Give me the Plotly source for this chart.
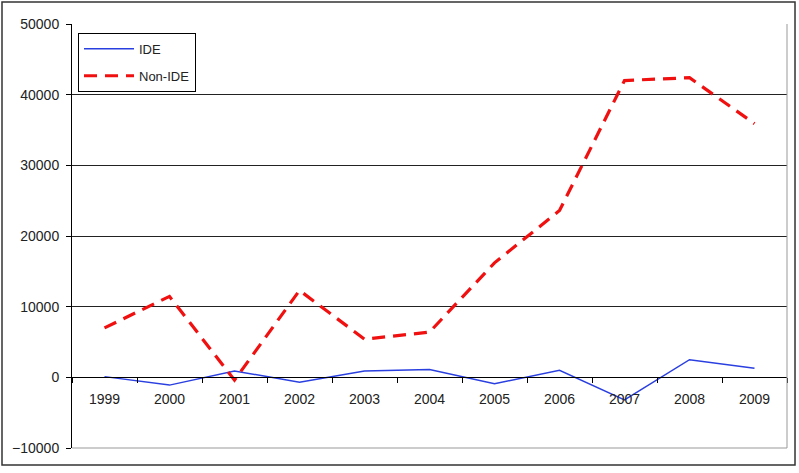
import plotly.graph_objects as go

years = ["1999", "2000", "2001", "2002", "2003", "2004", "2005", "2006", "2007", "2008", "2009"]
ide = [100, -1100, 900, -700, 900, 1100, -900, 1000, -3200, 2500, 1300]
non_ide = [7000, 11450, -400, 12300, 5400, 6400, 16200, 23600, 42000, 42400, 35900]
y_ticks = [-10000, 0, 10000, 20000, 30000, 40000, 50000]

y_min, y_max = -10000, 50000
font_family = "Liberation Sans, Arial, sans-serif"

fig = go.Figure()
fig.add_trace(go.Scatter(x=years, y=ide, mode="lines", name="IDE",
                         line=dict(color="#2a3fe0", width=1.5),
                         legendgroup="a"))
fig.add_trace(go.Scatter(x=years, y=non_ide, mode="lines", name="Non-IDE",
                         line=dict(color="#f01010", width=3.2, dash="13px,8px"),
                         legendgroup="b"))

fig.update_layout(
    width=799, height=473,
    margin=dict(l=72, r=12, t=24, b=25),
    paper_bgcolor="white", plot_bgcolor="white",
    font=dict(family=font_family, size=14, color="#222"),
    showlegend=True,
    legend=dict(x=0.0084, y=0.979, xanchor="left", yanchor="top",
                bordercolor="#000", borderwidth=1, bgcolor="white",
                font=dict(size=13, color="#222"),
                traceorder="grouped", tracegroupgap=7,
                itemwidth=50),
    xaxis=dict(type="category", range=[-0.5, len(years) - 0.5],
               anchor="free", position=(0 - y_min) / (y_max - y_min),
               showline=True, linecolor="#000", linewidth=1,
               ticks="outside", tickson="boundaries", ticklen=5, tickcolor="#000",
               showgrid=False, ticklabelstandoff=9,
               tickfont=dict(size=14, color="#222")),
    yaxis=dict(range=[y_min, y_max], tickvals=y_ticks, tickformat="d",
               showline=True, linecolor="#000", linewidth=1,
               ticks="outside", ticklen=5, tickcolor="#000",
               showgrid=True, gridcolor="#222", gridwidth=1,
               zeroline=True, zerolinecolor="#000", zerolinewidth=1,
               ticklabelstandoff=4,
               tickfont=dict(size=14, color="#222")),
    shapes=[
        dict(type="rect", xref="paper", yref="paper",
             x0=-0.0979, x1=1.0112, y0=-0.040, y1=1.052,
             line=dict(color="#333", width=1.5), fillcolor="rgba(0,0,0,0)"),
        dict(type="line", xref="paper", yref="paper", x0=1, x1=1, y0=0, y1=1,
             line=dict(color="#999", width=1)),
        dict(type="line", xref="paper", yref="paper", x0=0, x1=1, y0=0, y1=0,
             line=dict(color="#999", width=1)),
    ],
)

fig.write_html("out.html", config={"displayModeBar": False},
               post_script="document.body.style.margin='0';")
